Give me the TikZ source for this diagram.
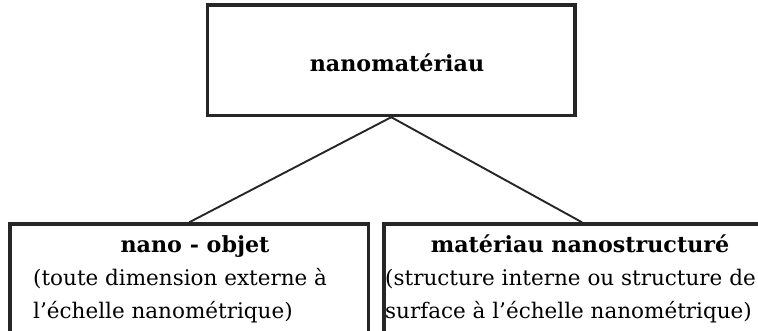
\documentclass[tikz,border=0pt]{standalone}
\usepackage{fontspec}
\setmainfont{DejaVu Serif}
\begin{document}
\begin{tikzpicture}[x=1pt,y=-1pt,
  box/.style={draw=black!85, line width=3.4pt, fill=white, inner sep=0pt},
  link/.style={draw=black!85, line width=1.9pt},
  head/.style={inner sep=0pt, anchor=base, font=\fontsize{22.2}{26}\selectfont\bfseries},
  body/.style={inner sep=0pt, anchor=base west, font=\fontsize{21.5}{26}\selectfont}]
  \useasboundingbox (0,0) rectangle (758,331);
  \clip (0,0) rectangle (758,331);

  % the three boxes
  \node[box, minimum width=367.5pt, minimum height=110.5pt] (top) at (391.25,60.25) {};
  \node[box, minimum width=358.5pt, minimum height=121pt] (left) at (189.25,284.5) {};
  \node[box, minimum width=396pt, minimum height=121pt] (right) at (582,284.5) {};

  % connectors
  \draw[link] (top.south) -- (left.north);
  \draw[link] (top.south) -- (right.north);

  % labels
  \node[head] (t1) at (397,72) {nanomatériau};
  \node[head] (l1) at (195,253) {nano - objet};
  \node[body] (l2) at (33,285) {(toute dimension externe à};
  \node[body] (l3) at (33,318) {l’échelle nanométrique)};
  \node[head] (r1) at (580,253) {matériau nanostructuré};
  \node[body] (r2) at (385,285) {(structure interne ou structure de};
  \node[body] (r3) at (385,318) {surface à l’échelle nanométrique)};
\end{tikzpicture}
\end{document}
